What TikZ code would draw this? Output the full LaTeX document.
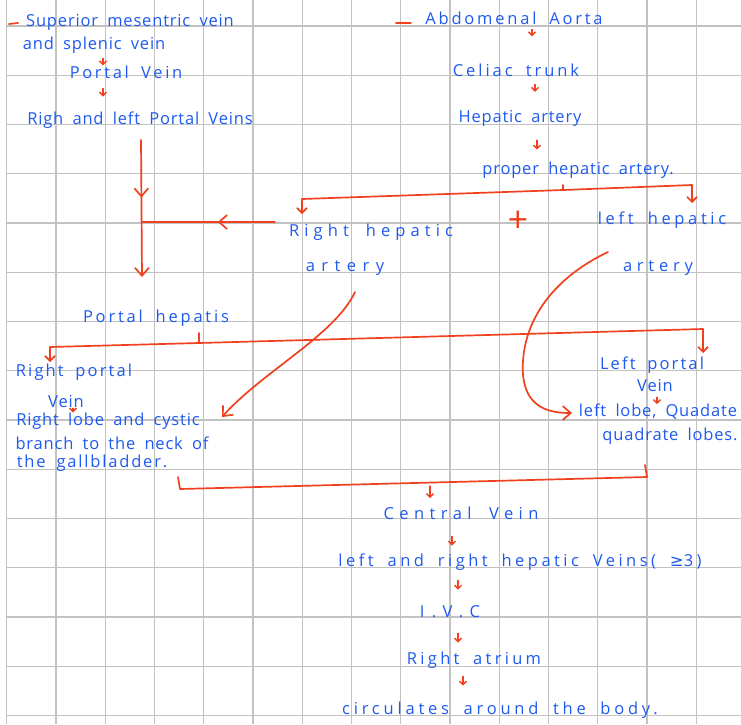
\documentclass[tikz,border=0pt]{standalone}
\usepackage{fontspec}
\setmainfont[LetterSpace=5, WordSpace=1.8]{Open Sans}
\newfontfamily\symfont{DejaVu Sans}
\usetikzlibrary{arrows.meta, decorations.markings}

\definecolor{ink}{HTML}{1E5AF0}
\definecolor{pen}{HTML}{F0401E}
\definecolor{rule}{HTML}{C2C2C2}

\begin{document}
\begin{tikzpicture}[x=1pt, y=-1pt,
  note/.style={text=ink, font=\fontsize{16.5}{19}\selectfont, inner sep=0pt},
  spread/.style={font=\fontsize{16.5}{19}\selectfont\addfontfeature{LetterSpace=#1}},
  rline/.style={pen, line width=1.7pt, line cap=round, line join=round},
  tip/.style={-{Straight Barb[length=8pt,width=14pt]}},
  hook/.style={-{Straight Barb[length=5pt,width=10pt]}},
  dn/.style={rline, line width=1.4pt, -{Straight Barb[length=3.5pt,width=7pt]}},
  midtip/.style={postaction={decorate}, decoration={markings,
    mark=at position #1 with {\arrow{Straight Barb[length=8pt,width=14pt]}}}}]

  \fill[white] (0,0) rectangle (741,724);
  \useasboundingbox (0,0) rectangle (741,724);
  \def\gs{49.25} % grid step

  % grid paper
  \foreach \i in {0,...,14}
    \draw[rule, line width=1.3pt] ({6.7+\i*\gs},0) -- ({6.7+\i*\gs},724);
  \foreach \j in {0,...,14}
    \draw[rule, line width=1.3pt] (6.7,{26+\j*\gs}) -- (741,{26+\j*\gs});

  % portal side
  \node[note] (smv) at (130,22) {Superior mesentric vein};
  \node[note] (asv) at (94,45) {and splenic vein};
  \node[note, spread=16] (pv) at (126,72) {Portal Vein};
  \node[note] (rlpv) at (140,120) {Righ and left Portal Veins};
  % arterial side
  \node[note, spread=17] (aa) at (514,18) {Abdomenal Aorta};
  \node[note, spread=18] (ct) at (516,70) {Celiac trunk};
  \node[note] (ha) at (520,118) {Hepatic artery};
  \node[note] (pha) at (578,170) {proper hepatic artery.};
  \node[note, spread=31] (rha1) at (371,232) {Right hepatic};
  \node[note, spread=39] (rha2) at (345,268) {artery};
  \node[text=pen, font=\fontsize{36}{36}\selectfont, inner sep=0pt] (plus) at (518,222) {+};
  \node[note, spread=22] (lha1) at (662,220) {left hepatic};
  \node[note, spread=29] (lha2) at (658,268) {artery};
  % hilum
  \node[note, spread=17] (ph) at (156,318) {Portal hepatis};
  \node[note, spread=13] (rpv1) at (74,372) {Right portal};
  \node[note] (rpv2) at (66,402) {Vein};
  \node[note] (rlc1) at (108,421) {Right lobe and cystic};
  \node[note] (rlc2) at (112,443) {branch to the neck of};
  \node[note, spread=11] (rlc3) at (92,463) {the gallbladder.};
  \node[note, spread=13] (lpv1) at (652,365) {Left portal};
  \node[note] (lpv2) at (655,386) {Vein};
  \node[note] (llq1) at (658,412) {left lobe, Quadate};
  \node[note] (llq2) at (670,436) {quadrate lobes.};
  % drainage
  \node[note, spread=33] (cv) at (461,513) {Central Vein};
  \node[note, spread=21] (hv) at (520,562) {left and right hepatic Veins( {\symfont ≥}3)};
  \node[note, spread=44] (ivc) at (450,612) {I.V.C};
  \node[note, spread=20] (ra) at (474,660) {Right atrium};
  \node[note, spread=23] (cab) at (500,710) {circulates around the body.};

  \draw[rline] (9,24) -- (18,23);
  \draw[rline] (396,23) -- (411,23);

  % small steps
  \draw[dn, shorten <=5pt] ([xshift=9pt]asv.south) -- ([xshift=-23pt]pv.north);
  \draw[dn, shorten <=10pt, shorten >=15pt] ([xshift=-23pt]pv.south) -- ([xshift=-37pt]rlpv.north);
  \draw[dn, shorten <=5pt, shorten >=27pt] ([xshift=18pt]aa.south) -- ([xshift=16pt]ct.north);
  \draw[dn, shorten <=8pt, shorten >=18pt] ([xshift=19pt]ct.south) -- ([xshift=15pt]ha.north);
  \draw[dn, shorten <=14pt, shorten >=12pt] ([xshift=17pt]ha.south) -- ([xshift=-41pt]pha.north);
  \draw[dn] ([xshift=7pt]rpv2.south) -- ([xshift=-35pt]rlc1.north);
  \draw[dn, shorten <=5pt] ([xshift=2pt]lpv2.south) -- ([xshift=-1pt]llq1.north);
  \draw[dn, shorten <=17pt, shorten >=8pt] ([xshift=-9pt]cv.south) -- ([xshift=-68pt]hv.north);
  \draw[dn, shorten <=10pt, shorten >=16pt] ([xshift=-62pt]hv.south) -- ([xshift=8pt]ivc.north);
  \draw[dn, shorten <=15pt, shorten >=9pt] ([xshift=8pt]ivc.south) -- ([xshift=-16pt]ra.north);
  \draw[dn, shorten <=8pt, shorten >=16pt] ([xshift=-11pt]ra.south) -- ([xshift=-37pt]cab.north);

  % veins down to the hilum, right hepatic artery joining
  \coordinate (jn) at (142,222);
  \draw[rline, tip, midtip=.42] ([xshift=1pt,yshift=-20pt]rlpv.center) -- ([xshift=-14pt,yshift=41pt]ph.center);
  \draw[rline, midtip=.43] ([xshift=-96pt,yshift=10pt]rha1.center) -- (jn);

  % split of the proper hepatic artery
  \coordinate (sp) at (563,190);
  \draw[rline] ([xshift=-15pt,yshift=-15pt]pha.center) -- (sp);
  \draw[rline, hook] (sp) -- ([xshift=-69pt,yshift=33pt]rha1.center) -- ([xshift=-69pt,yshift=18pt]rha1.center);
  \draw[rline, hook] (sp) -- ([xshift=30pt,yshift=35pt]lha1.center) -- ([xshift=30pt,yshift=17pt]lha1.center);

  % split at the portal hepatis
  \coordinate (sq) at (199,343);
  \draw[rline] ([xshift=43pt,yshift=-15pt]ph.center) -- (sq);
  \draw[rline, hook] (sq) -- ([xshift=-24pt,yshift=25pt]rpv1.center) -- ([xshift=-24pt,yshift=10pt]rpv1.center);
  \draw[rline, hook] (sq) -- ([xshift=51pt,yshift=36pt]lpv1.center) -- ([xshift=51pt,yshift=12pt]lpv1.center);

  % hepatic arteries to the lobes
  \draw[rline, tip] ([xshift=10pt,yshift=-24pt]rha2.center)
    .. controls (335,335) and (262,372) .. ([xshift=114pt,yshift=4pt]rlc1.center);
  \draw[rline, tip] ([xshift=-50pt,yshift=16pt]lha2.center)
    .. controls (545,282) and (520,330) .. (523,375)
    .. controls (526,405) and (545,413) .. ([xshift=-86pt,yshift=-1pt]llq1.center);

  % both lobes drain to the central vein
  \coordinate (bk) at (430,483);
  \draw[rline] ([xshift=86pt,yshift=-14pt]rlc3.center) -- ++(2,12) -- (647,477)
    -- ([xshift=-25pt,yshift=-29pt]llq2.center);
  \draw[dn, shorten <=3pt] (bk) -- ([xshift=-31pt,yshift=15pt]cv.center);

\end{tikzpicture}
\end{document}
